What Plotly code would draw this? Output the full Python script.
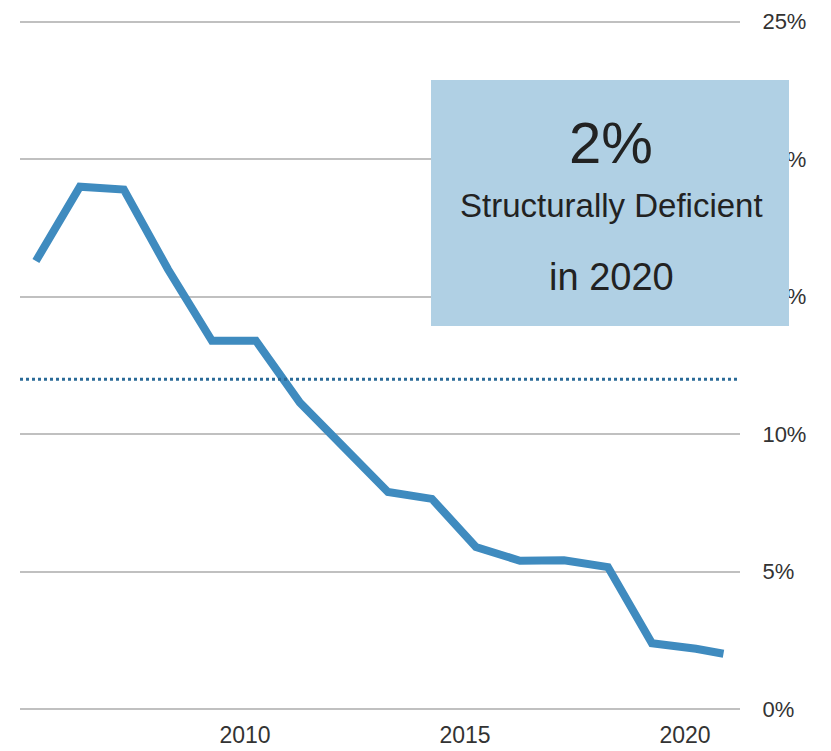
import plotly.graph_objects as go

dates = ["2005-04-01", "2006-04-01", "2007-04-01", "2008-04-01", "2009-04-01",
         "2010-04-01", "2011-04-01", "2012-04-01", "2013-04-01", "2014-04-01",
         "2015-04-01", "2016-04-01", "2017-04-01", "2018-04-01", "2019-04-01",
         "2020-04-01", "2020-11-15"]
pct_deficient = [16.3, 19.0, 18.9, 16.0, 13.4, 13.4, 11.15, 9.5, 7.9, 7.65,
                 5.9, 5.4, 5.42, 5.17, 2.4, 2.2, 2.02]
threshold = 12.0
tick_dates = ["2010-01-01", "2015-01-01", "2020-01-01"]
tick_text = ["2010", "2015", "2020"]
y_ticks = [0, 5, 10, 15, 20, 25]
y_text = ["0%", "5%", "10%", "15%", "20%", "25%"]

fig = go.Figure()
fig.add_trace(go.Scatter(x=dates, y=pct_deficient, mode="lines",
                         line=dict(color="#3f8bbf", width=8), hoverinfo="skip"))
fig.add_hline(y=threshold, line=dict(color="#2b6b98", width=3, dash="dot"))

T, B = 19, 39
fig.update_layout(
    width=831, height=751,
    margin=dict(l=20, r=91, t=T, b=B),
    paper_bgcolor="white", plot_bgcolor="white",
    showlegend=False,
    font=dict(family="Liberation Sans, Arial, sans-serif", size=22, color="#333333"),
)
fig.update_xaxes(type="date", range=["2004-11-20", "2021-04-01"], tickvals=tick_dates,
                 ticktext=tick_text, showgrid=False, zeroline=False, showline=False,
                 tickfont=dict(size=23), automargin=False,
                 ticks="outside", ticklen=2, tickcolor="rgba(0,0,0,0)")
fig.update_yaxes(side="right", range=[-0.1, 25.1], tickvals=y_ticks, ticktext=y_text,
                 showgrid=True, gridcolor="#c0c0c0", gridwidth=2, zeroline=False,
                 automargin=False,
                 showline=False, ticks="outside", ticklen=17, tickcolor="rgba(0,0,0,0)")

ph = 751 - T - B
def yp(y):
    return (751 - B - y) / ph
def xp(x):
    return (x - 20) / 720

fig.add_shape(type="rect", xref="paper", yref="paper", layer="above",
              x0=xp(431), x1=xp(789), y0=yp(326), y1=yp(80),
              fillcolor="#b0d0e4", line=dict(width=0))
cx = xp(611)
fig.add_annotation(xref="paper", yref="paper", x=cx, y=yp(142), text="2%",
                   xanchor="center", yanchor="middle",
                   showarrow=False, font=dict(size=58, color="#222222"))
fig.add_annotation(xref="paper", yref="paper", x=cx, y=yp(205),
                   text="Structurally Deficient", xanchor="center", yanchor="middle",
                   showarrow=False, font=dict(size=33, color="#222222"))
fig.add_annotation(xref="paper", yref="paper", x=cx, y=yp(277), text="in 2020",
                   xanchor="center", yanchor="middle",
                   showarrow=False, font=dict(size=38, color="#222222"))

fig.write_html("out.html", post_script="document.body.style.margin='0';",
               config={"displayModeBar": False})
